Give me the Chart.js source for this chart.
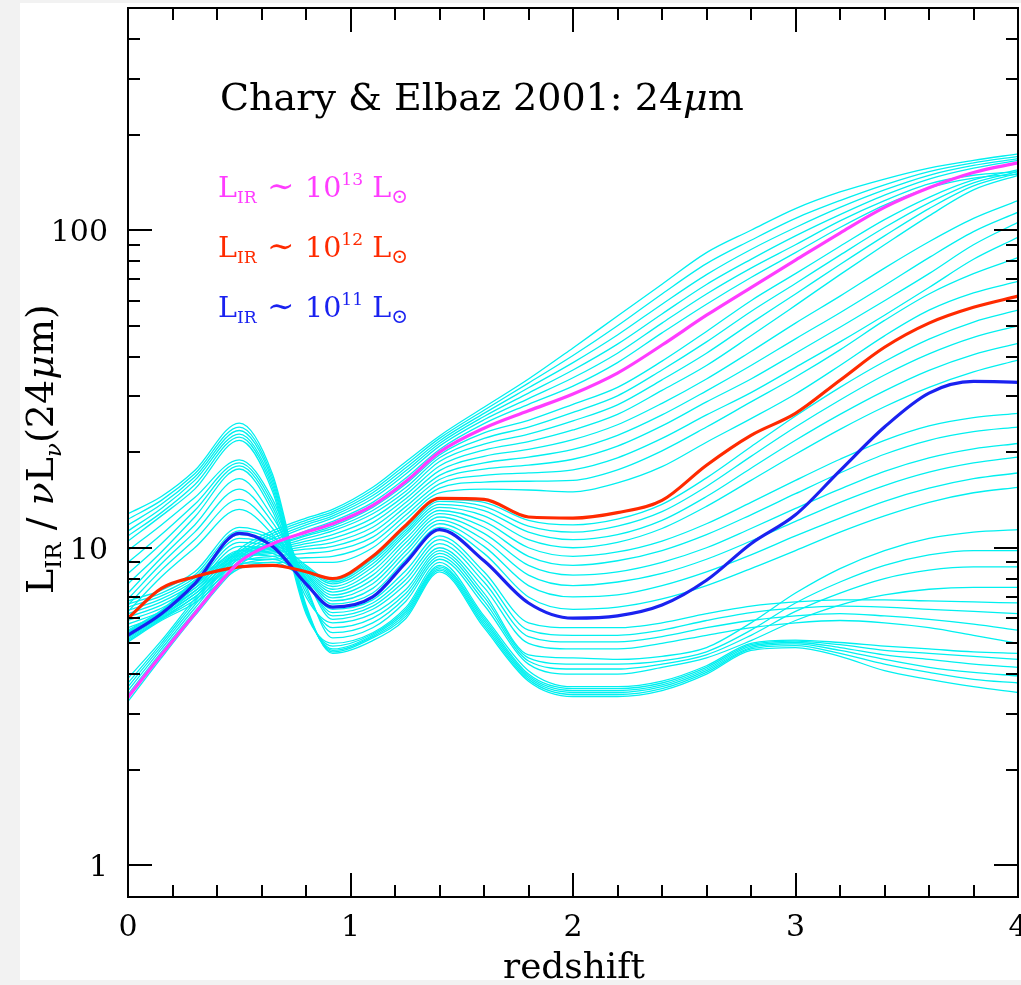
<!DOCTYPE html>
<html>
<head>
<meta charset="utf-8">
<script src="https://cdn.jsdelivr.net/npm/chart.js@4.4.0/dist/chart.umd.min.js"></script>
<style>
  html, body { margin: 0; padding: 0; background: #f2f2f2; overflow: hidden; }
  #panel { position: absolute; left: 20px; top: 3px; width: 1001px; height: 977px; background: #fff; }
  canvas { display: block; }
</style>
</head>
<body>
<div id="panel"><canvas id="chart" width="1001" height="977"></canvas></div>
<script>
// redshift grid shared by every template curve
const redshift = [0, 0.15, 0.3, 0.5, 0.65, 0.8, 0.92, 1.1, 1.25, 1.4, 1.6, 1.8, 2.0, 2.2, 2.4, 2.6, 2.8, 3.0, 3.2, 3.4, 3.6, 3.8, 4.0];

// highlighted templates: L_IR / nuL_nu(24um)
const lir13 = [3.38, 4.6, 6.2, 9.0, 10.3, 11.2, 11.9, 13.6, 16.2, 20.0, 23.8, 27.0, 30.5, 35.5, 43.5, 54, 66, 80.5, 98, 118, 136, 152, 163];
const lir12 = [6.0, 7.45, 8.1, 8.7, 8.8, 8.4, 8.0, 9.4, 11.8, 14.3, 14.2, 12.5, 12.4, 12.9, 14.1, 18.2, 22.6, 26.5, 33.7, 42.8, 51, 57.2, 62];
const lir11 = [5.3, 6.2, 7.7, 11.1, 10.1, 7.7, 6.5, 7.0, 9.0, 11.4, 9.1, 6.7, 6.0, 6.1, 6.6, 7.9, 10.3, 12.7, 17.5, 24, 30.7, 33.4, 33.2];

// the other templates, grouped roughly by luminosity
const cyanLowest = [
    [12.8, 14.5, 17.5, 24.7, 17.0, 6.6, 4.65, 5.1, 6.0, 8.4, 5.6, 3.8, 3.4, 3.4, 3.55, 4.0, 4.75, 4.85, 4.55, 4.1, 3.85, 3.65, 3.5],
    [12.3, 14.1, 17.1, 24.0, 16.6, 6.5, 4.7, 5.2, 6.1, 8.5, 5.7, 3.85, 3.45, 3.45, 3.6, 4.05, 4.8, 4.92, 4.65, 4.3, 4.05, 3.85, 3.75],
    [11.8, 13.7, 16.7, 23.4, 16.2, 6.4, 4.75, 5.25, 6.2, 8.6, 5.8, 3.9, 3.5, 3.5, 3.65, 4.1, 4.85, 4.98, 4.75, 4.45, 4.2, 4.05, 3.95],
    [11.3, 13.3, 16.3, 22.8, 15.8, 6.4, 4.8, 5.3, 6.3, 8.7, 5.9, 3.95, 3.55, 3.55, 3.7, 4.15, 4.9, 5.03, 4.85, 4.6, 4.45, 4.3, 4.2],
    [10.9, 12.9, 15.8, 22.3, 15.4, 6.3, 4.9, 5.35, 6.4, 8.8, 6.0, 4.0, 3.6, 3.6, 3.75, 4.2, 4.95, 5.08, 4.95, 4.75, 4.65, 4.55, 4.45],
    [10.5, 12.6, 15.3, 21.8, 15.0, 6.2, 5.0, 5.4, 6.5, 9.0, 6.1, 4.1, 3.65, 3.65, 3.8, 4.25, 5.0, 5.12, 5.03, 4.9, 4.8, 4.7, 4.65],
];
const cyanLow = [
    [9.8, 11.8, 14.4, 18.9, 14.2, 7.6, 5.2, 5.6, 6.8, 9.2, 6.6, 4.3, 4.0, 4.0, 4.2, 4.5, 5.1, 5.9, 6.6, 7.1, 7.4, 7.5, 7.5],
    [9.0, 11.0, 13.7, 18.5, 13.8, 7.4, 5.4, 5.8, 7.0, 9.4, 6.8, 4.4, 4.15, 4.15, 4.3, 4.6, 5.3, 6.3, 7.2, 8.0, 8.5, 8.7, 8.7],
    [8.3, 10.3, 13.1, 18.1, 13.4, 7.2, 5.6, 6.0, 7.2, 9.6, 7.0, 4.5, 4.3, 4.3, 4.4, 4.7, 5.5, 6.7, 7.8, 8.8, 9.5, 9.8, 9.8],
    [7.7, 9.7, 12.5, 17.7, 13.0, 7.0, 5.8, 6.2, 7.4, 9.8, 7.2, 4.6, 4.5, 4.45, 4.55, 4.85, 5.8, 7.2, 8.6, 9.8, 10.7, 11.2, 11.4],
];
const cyanMid = [
    [7.2, 9.3, 11.8, 16.5, 12.5, 8.0, 5.95, 6.4, 7.7, 10.0, 7.5, 5.0, 4.8, 4.8, 5.0, 5.3, 5.6, 5.8, 5.9, 5.8, 5.6, 5.3, 5.0],
    [6.9, 8.9, 11.2, 15.3, 12.0, 8.0, 6.1, 6.55, 7.95, 10.3, 7.8, 5.25, 5.05, 5.05, 5.25, 5.6, 5.9, 6.1, 6.2, 6.1, 5.95, 5.75, 5.5],
    [6.6, 8.5, 10.6, 14.2, 11.5, 7.9, 6.25, 6.7, 8.2, 10.6, 8.1, 5.5, 5.3, 5.3, 5.5, 5.9, 6.25, 6.45, 6.55, 6.5, 6.4, 6.3, 6.2],
    [6.3, 8.1, 10.0, 13.2, 11.0, 7.8, 6.4, 6.85, 8.5, 10.9, 8.4, 5.8, 5.6, 5.6, 5.8, 6.2, 6.55, 6.75, 6.85, 6.85, 6.8, 6.75, 6.7],
];
const cyanBelowRed = [
    [5.45, 6.0, 7.0, 8.9, 9.0, 7.9, 6.65, 7.2, 9.2, 11.6, 9.6, 7.0, 6.4, 6.5, 6.9, 7.6, 8.6, 9.8, 11.2, 12.6, 13.9, 14.9, 15.5],
    [5.6, 6.15, 7.15, 9.2, 9.2, 8.0, 6.8, 7.45, 9.5, 11.9, 10.1, 7.6, 7.0, 7.1, 7.6, 8.4, 9.5, 10.9, 12.4, 14.0, 15.4, 16.5, 17.2],
    [5.75, 6.3, 7.3, 9.5, 9.4, 8.1, 6.95, 7.7, 9.8, 12.2, 10.6, 8.2, 7.6, 7.8, 8.3, 9.2, 10.5, 12.1, 13.9, 15.7, 17.3, 18.5, 19.3],
    [5.9, 6.45, 7.45, 9.8, 9.6, 8.2, 7.1, 7.95, 10.1, 12.5, 11.1, 8.8, 8.2, 8.4, 9.0, 10.0, 11.5, 13.3, 15.3, 17.4, 19.2, 20.5, 21.3],
    [6.05, 6.6, 7.6, 10.1, 9.8, 8.3, 7.25, 8.2, 10.4, 12.8, 11.6, 9.4, 8.8, 9.1, 9.8, 11.0, 12.7, 14.8, 17.2, 19.7, 21.8, 23.2, 24.0],
    [6.2, 6.75, 7.75, 10.4, 10.0, 8.4, 7.4, 8.45, 10.7, 13.1, 12.1, 10.0, 9.4, 9.7, 10.5, 11.9, 13.9, 16.3, 19.0, 21.8, 24.2, 25.7, 26.5],
    [6.35, 6.9, 7.9, 10.7, 10.2, 8.5, 7.55, 8.7, 11.0, 13.4, 12.6, 10.6, 10.0, 10.4, 11.5, 13.5, 16.3, 19.7, 23.6, 27.8, 32.0, 35.8, 39],
    [6.5, 7.05, 8.05, 11.0, 10.4, 8.6, 7.7, 8.9, 11.2, 13.7, 13.1, 11.2, 10.6, 11.0, 12.2, 14.5, 17.8, 21.8, 26.3, 31.2, 36.2, 40.6, 44],
    [6.65, 7.2, 8.2, 11.3, 10.6, 8.7, 7.8, 9.1, 11.4, 14.0, 13.5, 11.7, 11.2, 11.7, 13.0, 15.6, 19.4, 24.0, 29.2, 35.0, 40.8, 46.0, 50],
    [6.8, 7.35, 8.4, 11.6, 10.8, 8.8, 7.9, 9.25, 11.6, 14.2, 13.9, 12.2, 11.8, 12.3, 13.7, 16.6, 20.8, 26.0, 32.0, 38.6, 45.4, 51.4, 56],
];
const cyanBelowMagenta = [
    [5.05, 5.9, 6.7, 8.6, 9.0, 9.0, 9.0, 10.0, 12.3, 14.9, 15.3, 15.2, 15.0, 16.0, 18.0, 21.5, 25.5, 30.5, 37.5, 46.5, 56, 63.5, 69],
    [5.1, 5.95, 6.85, 8.8, 9.2, 9.3, 9.4, 10.4, 12.7, 15.4, 16.1, 16.2, 16.3, 17.6, 20.2, 24.0, 28.8, 34.5, 42.0, 52.0, 63, 73, 82],
    [5.15, 6.0, 7.0, 9.0, 9.4, 9.6, 9.8, 10.8, 13.1, 15.9, 16.9, 17.2, 17.6, 19.2, 22.1, 26.2, 30.8, 37.0, 44.5, 54.0, 66, 81, 95],
    [5.2, 6.05, 7.15, 9.2, 9.6, 9.9, 10.1, 11.2, 13.5, 16.4, 17.7, 18.2, 19.0, 20.9, 24.2, 28.8, 34.0, 41.0, 49.5, 60.0, 73, 90, 106],
    [5.25, 6.1, 7.3, 9.3, 9.7, 10.1, 10.4, 11.6, 13.9, 16.9, 18.5, 19.3, 20.4, 22.6, 26.2, 31.2, 37.5, 45.5, 55.0, 67.0, 82, 99, 114],
    [5.3, 6.15, 7.45, 9.4, 9.8, 10.3, 10.7, 12.0, 14.3, 17.5, 19.4, 20.4, 21.9, 24.4, 28.5, 34.0, 41.5, 51.0, 62.0, 76.0, 92, 109, 124],
    [5.35, 6.2, 7.6, 9.5, 9.9, 10.5, 11.0, 12.4, 14.7, 18.1, 20.3, 21.6, 23.5, 26.3, 31.3, 37.5, 46.5, 58.0, 72.5, 90.0, 111, 134, 149],
    [5.4, 6.25, 7.7, 9.6, 10.0, 10.7, 11.3, 12.8, 15.1, 18.7, 21.2, 22.8, 25.1, 28.2, 33.8, 41.0, 51.0, 63.0, 78.0, 96.0, 117, 138, 151],
    [5.45, 6.3, 7.8, 9.7, 10.1, 10.9, 11.5, 13.1, 15.5, 19.2, 22.1, 24.0, 26.7, 30.1, 36.3, 44.5, 55.5, 68.0, 83.5, 102, 122, 141, 153],
    [5.5, 6.35, 7.9, 9.8, 10.2, 11.0, 11.7, 13.4, 15.9, 19.6, 23.0, 25.2, 28.3, 32.0, 38.7, 48.0, 60.0, 73.0, 89.0, 108, 127, 144, 155],
];
const cyanAboveMagenta = [
    [3.28, 4.5, 6.1, 8.8, 10.2, 11.3, 12.1, 13.9, 16.6, 20.4, 24.6, 28.3, 32.3, 38.3, 47.5, 58.5, 71, 85, 102, 120, 136, 146, 150],
    [3.45, 4.7, 6.3, 9.1, 10.5, 11.6, 12.4, 14.3, 17.1, 20.9, 25.3, 29.5, 34.3, 41.0, 51.0, 63, 76, 90, 107, 124, 140, 149, 153],
    [3.55, 4.8, 6.45, 9.3, 10.7, 11.8, 12.6, 14.6, 17.5, 21.3, 25.9, 30.7, 36.3, 43.8, 54.5, 67.5, 81, 96, 112, 129, 145, 157, 166],
    [3.65, 4.9, 6.6, 9.5, 10.9, 12.0, 12.8, 14.9, 17.9, 21.7, 26.5, 31.9, 38.3, 46.8, 58.5, 72.5, 87, 102, 118, 134, 149, 160, 168],
    [3.75, 5.0, 6.75, 9.7, 11.1, 12.2, 13.0, 15.2, 18.3, 22.1, 27.1, 33.0, 40.3, 50.0, 63.0, 78.5, 93, 109, 124, 139, 153, 163, 171],
    [3.88, 5.1, 6.9, 9.9, 11.3, 12.4, 13.2, 15.5, 18.7, 22.5, 27.7, 34.0, 42.6, 53.7, 67.6, 85, 100, 117, 132, 145, 157, 166, 174],
];

// axis ticks
const xMajorTicks = [0, 1, 2, 3, 4];
const yMajorTicks = [1, 10, 100];

const CYAN    = '#00f0f0';
const MAGENTA = '#ff3cff';
const RED     = '#ff2a00';
const BLUE    = '#1a22f0';
const FONT    = '"DejaVu Serif", serif';

function curve(values) {
    return values.map((v, i) => ({x: redshift[i], y: v}));
}

const cyanRows = [].concat(cyanLowest, cyanLow, cyanMid, cyanBelowRed, cyanBelowMagenta, cyanAboveMagenta);

const datasets = [
    {data: curve(lir13), borderColor: MAGENTA, borderWidth: 3.2, order: 0},
    {data: curve(lir12), borderColor: RED, borderWidth: 3.2, order: 0},
    {data: curve(lir11), borderColor: BLUE, borderWidth: 3.2, order: 0},
].concat(cyanRows.map(row => ({data: curve(row), borderColor: CYAN, borderWidth: 1.3, order: 1})));

// text made of pieces: [text, size factor, baseline shift (em), italic]
function richText(ctx, parts, x, y, size, dry) {
    let cx = x;
    for (const [text, scale, shift, italic] of parts) {
        ctx.font = (italic ? 'italic ' : '') + (size * scale).toFixed(2) + 'px ' + FONT;
        if (!dry) ctx.fillText(text, cx, y + shift * size);
        cx += ctx.measureText(text).width;
    }
    return cx - x;
}

function fitText(ctx, parts, x, y, width) {
    const w = richText(ctx, parts, 0, 0, 30, true);
    return richText(ctx, parts, x, y, 30 * width / w, false);
}

function legendParts(exp) {
    return [['L', 1, 0], ['IR', 0.6, 0.2], [' \u223C ', 1.15, 0], ['10', 1, 0], [exp, 0.6, -0.42], [' L', 1, 0], ['\u2299', 0.7, 0.2]];
}

const decorations = {
    id: 'decorations',
    afterDraw(chart) {
        const ctx = chart.ctx;
        const {left, right, top, bottom} = chart.chartArea;
        const xs = chart.scales.x, ys = chart.scales.y;
        ctx.save();
        ctx.strokeStyle = '#000';
        ctx.lineWidth = 2;
        ctx.strokeRect(left, top, right - left, bottom - top);

        ctx.beginPath();
        for (let i = 0; i <= 20; i++) {
            const v = i * 0.2;
            const px = Math.round(xs.getPixelForValue(v));
            const len = i % 5 === 0 ? 24 : 12;
            ctx.moveTo(px, bottom); ctx.lineTo(px, bottom - len);
            ctx.moveTo(px, top); ctx.lineTo(px, top + len);
        }
        for (let d = 1; d <= 100; d *= 10) {
            for (let m = 1; m <= 9; m++) {
                const v = d * m;
                if (v > ys.max) break;
                const py = Math.round(ys.getPixelForValue(v));
                const len = m === 1 ? 24 : 12;
                ctx.moveTo(left, py); ctx.lineTo(left + len, py);
                ctx.moveTo(right, py); ctx.lineTo(right - len, py);
            }
        }
        ctx.stroke();

        ctx.fillStyle = '#000';
        ctx.font = '30px ' + FONT;
        ctx.textAlign = 'center';
        ctx.textBaseline = 'alphabetic';
        xMajorTicks.forEach(v => ctx.fillText(String(v), xs.getPixelForValue(v), 933));
        ctx.textAlign = 'right';
        yMajorTicks.forEach(v => ctx.fillText(String(v), left - 20, ys.getPixelForValue(v) + 11));

        ctx.textAlign = 'left';
        // x axis title
        fitText(ctx, [['redshift', 1, 0]], 554 - 71, 975, 142);

        // y axis title
        ctx.save();
        ctx.translate(33, 446);
        ctx.rotate(-Math.PI / 2);
        const yParts = [['L', 1, 0], ['IR', 0.6, 0.2], [' / ', 1, 0], ['\u03BD', 1, 0, true], ['L', 1, 0],
                        ['\u03BD', 0.6, 0.2, true], ['(24', 1, 0], ['\u03BC', 1, 0, true], ['m)', 1, 0]];
        fitText(ctx, yParts, -145, 0, 290);
        ctx.restore();

        // title
        fitText(ctx, [['Chary & Elbaz 2001: 24', 1, 0], ['\u03BC', 1, 0, true], ['m', 1, 0]], 200, 107, 524);

        ctx.fillStyle = MAGENTA;
        fitText(ctx, legendParts('13'), 198, 194, 190);
        ctx.fillStyle = RED;
        fitText(ctx, legendParts('12'), 198, 254, 190);
        ctx.fillStyle = BLUE;
        fitText(ctx, legendParts('11'), 198, 314, 190);
        ctx.restore();
    }
};

new Chart(document.getElementById('chart'), {
    type   : 'line',
    data   : {datasets: datasets},
    options: {
        responsive : false,
        animation  : false,
        events     : [],
        datasets   : {
            line: {
                pointRadius           : 0,
                fill                  : false,
                cubicInterpolationMode: 'monotone',
            },
        },
        layout     : {padding: {top: 5, right: 3, left: 0, bottom: 0}},
        plugins    : {
            legend : {display: false},
            tooltip: {enabled: false},
        },
        scales     : {
            x: {
                type   : 'linear',
                min    : 0,
                max    : 4,
                grid   : {display: false},
                border : {display: false},
                ticks  : {display: false},
                afterFit(scale) { scale.height = 83; },
            },
            y: {
                type   : 'logarithmic',
                min    : Math.pow(10, -0.1),
                max    : Math.pow(10, 2.7),
                grid   : {display: false},
                border : {display: false},
                ticks  : {display: false},
                afterFit(scale) { scale.width = 108; },
            },
        },
    },
    plugins: [decorations],
});
</script>
</body>
</html>
